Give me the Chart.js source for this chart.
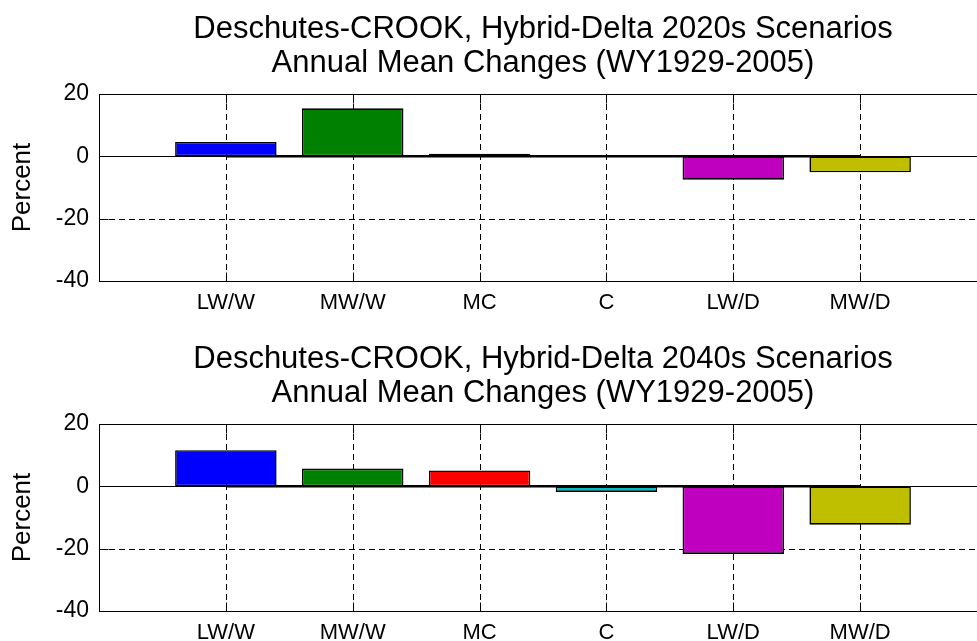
<!DOCTYPE html>
<html>
<head>
<meta charset="utf-8">
<script src="https://cdn.jsdelivr.net/npm/chart.js@4.4.1/dist/chart.umd.min.js"></script>
<style>
  html, body { margin: 0; padding: 0; background: #fff; overflow: hidden; width: 977px; height: 641px; }
  .wrap { position: absolute; left: 0; width: 1000px; height: 330px; }
  canvas { display: block; }
</style>
</head>
<body>
<div class="wrap" style="top:0"><canvas id="c1" width="1000" height="330"></canvas></div>
<div class="wrap" style="top:330px"><canvas id="c2" width="1000" height="330"></canvas></div>
<script>
// ---- data ----
const categories = ['LW/W', 'MW/W', 'MC', 'C', 'LW/D', 'MW/D'];
const changes2020s = [4.6, 15.4, 0.8, 0.3, -7.5, -5.1];
const changes2040s = [11.6, 5.7, 5.1, -1.8, -21.7, -12.3];
const barColors = ['#0000ff', '#008000', '#ff0000', '#00bfbf', '#bf00bf', '#bfbf00'];
const yTickValues = [-40, -20, 0, 20];
const titles2020s = ['Deschutes-CROOK, Hybrid-Delta 2020s Scenarios', 'Annual Mean Changes (WY1929-2005)'];
const titles2040s = ['Deschutes-CROOK, Hybrid-Delta 2040s Scenarios', 'Annual Mean Changes (WY1929-2005)'];
const yLabel = 'Percent';

Chart.defaults.font.family = '"Liberation Sans", Arial, Helvetica, sans-serif';
Chart.defaults.color = '#000';

const matlabAxes = {
  id: 'matlabAxes',
  beforeDatasetsDraw(chart) {
    const { ctx, chartArea: a, scales: { x, y } } = chart;
    ctx.save();
    ctx.strokeStyle = '#000';
    ctx.lineWidth = 1;
    ctx.setLineDash([6, 4]);
    ctx.beginPath();
    categories.forEach((c, i) => {
      const px = Math.round(x.getPixelForValue(i + 1)) + 0.5;
      ctx.moveTo(px, a.top); ctx.lineTo(px, a.bottom);
    });
    yTickValues.forEach(v => {
      if (v > y.min && v < y.max && v !== 0) {
        const py = Math.round(y.getPixelForValue(v)) + 0.5;
        ctx.moveTo(a.left, py); ctx.lineTo(a.right, py);
      }
    });
    ctx.stroke();
    ctx.setLineDash([]);
    const p0 = Math.round(y.getPixelForValue(0)) + 0.5;
    ctx.beginPath();
    ctx.moveTo(a.left, p0); ctx.lineTo(a.right, p0);
    ctx.stroke();
    ctx.restore();
  },
  afterDatasetsDraw(chart) {
    const { ctx, chartArea: a, scales: { x, y } } = chart;
    ctx.save();
    ctx.strokeStyle = '#000';
    ctx.lineWidth = 1;
    ctx.setLineDash([]);
    const L = Math.round(a.left) + 0.5, R = Math.round(a.right) + 0.5;
    const T = Math.round(a.top) + 0.5, B = Math.round(a.bottom) + 0.5;
    ctx.strokeRect(L, T, R - L, B - T);
    const tl = 9;
    ctx.beginPath();
    categories.forEach((c, i) => {
      const px = Math.round(x.getPixelForValue(i + 1)) + 0.5;
      ctx.moveTo(px, B); ctx.lineTo(px, B - tl);
      ctx.moveTo(px, T); ctx.lineTo(px, T + tl);
    });
    yTickValues.forEach(v => {
      const py = Math.round(y.getPixelForValue(v)) + 0.5;
      ctx.moveTo(L, py); ctx.lineTo(L + tl, py);
      ctx.moveTo(R, py); ctx.lineTo(R - tl, py);
    });
    ctx.stroke();
    ctx.restore();
  }
};

function makeChart(id, values, titleLines) {
  return new Chart(document.getElementById(id), {
    type: 'bar',
    data: {
      datasets: [
        {
          type: 'line',
          data: categories.map((c, i) => ({ x: i + 1, y: 0 })),
          borderColor: '#000',
          borderWidth: 2.5,
          pointRadius: 0,
          order: 0
        },
        {
          type: 'bar',
          data: values.map((v, i) => ({ x: i + 1, y: v })),
          backgroundColor: barColors,
          borderColor: '#000',
          borderWidth: 1.6,
          borderSkipped: false,
          barPercentage: 0.8,
          categoryPercentage: 1.0,
          order: 1
        }
      ]
    },
    options: {
      responsive: false,
      animation: false,
      events: [],
      layout: { padding: { left: 0, right: 13, top: 0, bottom: 0 } },
      plugins: {
        legend: { display: false },
        tooltip: { enabled: false },
        title: {
          display: true,
          fullSize: false,
          text: titleLines,
          color: '#000',
          font: { size: 31, weight: 'normal', lineHeight: '34px' },
          padding: { top: 12, bottom: 14 }
        }
      },
      scales: {
        x: {
          type: 'linear',
          min: 0,
          max: 7,
          offset: false,
          grid: { display: false, drawTicks: false },
          border: { display: false },
          afterBuildTicks: (s) => { s.ticks = categories.map((c, i) => ({ value: i + 1 })); },
          afterFit: (s) => { s.height = 49; },
          ticks: {
            autoSkip: false,
            maxRotation: 0,
            padding: 9,
            font: { size: 22 },
            color: '#000',
            callback: (v) => categories[v - 1] || ''
          }
        },
        y: {
          type: 'linear',
          min: -40,
          max: 20,
          grid: { display: false, drawTicks: false },
          border: { display: false },
          afterBuildTicks: (s) => { s.ticks = yTickValues.map(v => ({ value: v })); },
          afterFit: (s) => { s.width = 99; },
          ticks: { padding: 10, font: { size: 23 }, color: '#000' },
          title: {
            display: true,
            text: yLabel,
            color: '#000',
            font: { size: 26, weight: 'normal', lineHeight: 1.2 },
            padding: { top: 7, bottom: 0 }
          }
        }
      }
    },
    plugins: [matlabAxes]
  });
}

makeChart('c1', changes2020s, titles2020s);
makeChart('c2', changes2040s, titles2040s);
</script>
</body>
</html>
